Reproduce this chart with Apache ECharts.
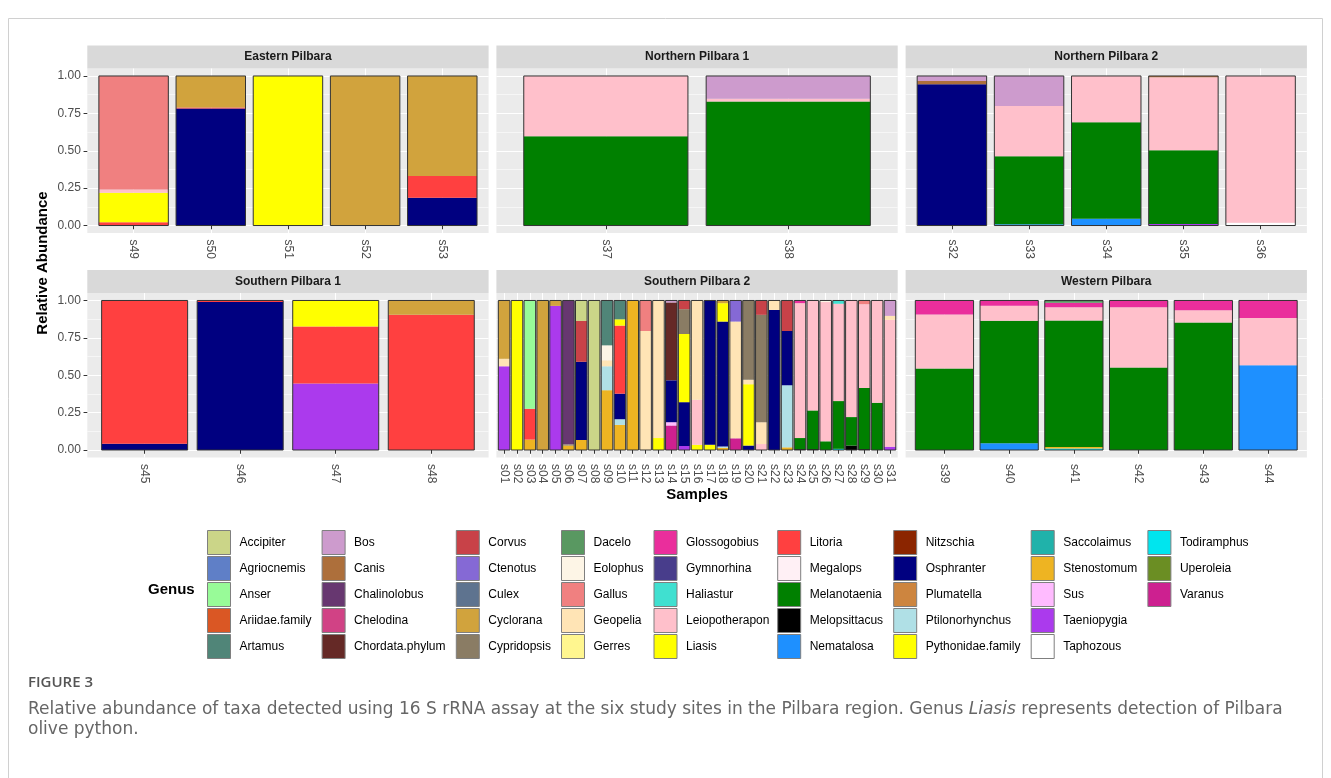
<!DOCTYPE html>
<html><head><meta charset="utf-8">
<script src="https://cdn.jsdelivr.net/npm/echarts@6/dist/echarts.min.js"></script>
<style>html,body{margin:0;padding:0;background:#fff}#c{width:1331px;height:778px}</style>
</head><body><div id="c"></div>
<script>
// ---------- DATA ----------
const genera = ['Accipiter','Agriocnemis','Anser','Ariidae.family','Artamus','Bos','Canis','Chalinolobus','Chelodina','Chordata.phylum','Corvus','Ctenotus','Culex','Cyclorana','Cypridopsis','Dacelo','Eolophus','Gallus','Geopelia','Gerres','Glossogobius','Gymnorhina','Haliastur','Leiopotherapon','Liasis','Litoria','Megalops','Melanotaenia','Melopsittacus','Nematalosa','Nitzschia','Osphranter','Plumatella','Ptilonorhynchus','Pythonidae.family','Saccolaimus','Stenostomum','Sus','Taeniopygia','Taphozous','Todiramphus','Uperoleia','Varanus'];
const genusColors = ['#CBD588','#5F7FC7','#98FB98','#DA5724','#508578','#CD9BCD','#AD6F3B','#673770','#D14285','#652926','#C84248','#8569D5','#5E738F','#D1A33D','#8A7C64','#599861','#FDF5E6','#F08080','#FFE4B5','#FFF68F','#EA2E9C','#483D8B','#40E0D0','#FFC0CB','#FFFF00','#FF4040','#FFF0F5','#008000','#000000','#1E90FF','#8B2500','#000080','#CD853F','#B0E0E6','#FFFF00','#20B2AA','#EEB422','#FFBBFF','#AB3AED','#FFFFFF','#00E5EE','#6B8E23','#CD2090'];

const panelTitles = ['Eastern Pilbara','Northern Pilbara 1','Northern Pilbara 2','Southern Pilbara 1','Southern Pilbara 2','Western Pilbara'];

const easternSamples = ['s49','s50','s51','s52','s53'];
const easternValues = [
  [['Litoria',0.022],['Liasis',0.197],['Leiopotherapon',0.022],['Gallus',0.759]],
  [['Osphranter',0.783],['Litoria',0.007],['Cyclorana',0.21]],
  [['Liasis',1]],
  [['Cyclorana',1]],
  [['Osphranter',0.186],['Litoria',0.145],['Cyclorana',0.669]]
];

const northern1Samples = ['s37','s38'];
const northern1Values = [
  [['Melanotaenia',0.597],['Leiopotherapon',0.403]],
  [['Melanotaenia',0.83],['Leiopotherapon',0.018],['Bos',0.152]]
];

const northern2Samples = ['s32','s33','s34','s35','s36'];
const northern2Values = [
  [['Osphranter',0.944],['Canis',0.022],['Bos',0.034]],
  [['Nematalosa',0.008],['Melanotaenia',0.455],['Leiopotherapon',0.336],['Bos',0.201]],
  [['Nematalosa',0.045],['Melanotaenia',0.646],['Leiopotherapon',0.309]],
  [['Taeniopygia',0.01],['Melanotaenia',0.493],['Leiopotherapon',0.488],['Canis',0.009]],
  [['Taphozous',0.018],['Leiopotherapon',0.982]]
];

const southern1Samples = ['s45','s46','s47','s48'];
const southern1Values = [
  [['Osphranter',0.042],['Litoria',0.958]],
  [['Osphranter',0.989],['Litoria',0.011]],
  [['Taeniopygia',0.444],['Litoria',0.382],['Liasis',0.174]],
  [['Litoria',0.904],['Cyclorana',0.096]]
];

const southern2Samples = ['s01','s02','s03','s04','s05','s06','s07','s08','s09','s10','s11','s12','s13','s14','s15','s16','s17','s18','s19','s20','s21','s22','s23','s24','s25','s26','s27','s28','s29','s30','s31'];
const southern2Values = [
  [['Taeniopygia',0.56],['Geopelia',0.05],['Cyclorana',0.39]],
  [['Liasis',1]],
  [['Stenostomum',0.07],['Litoria',0.206],['Anser',0.724]],
  [['Cyclorana',1]],
  [['Taeniopygia',0.964],['Cyclorana',0.036]],
  [['Stenostomum',0.03],['Cypridopsis',0.008],['Chalinolobus',0.962]],
  [['Stenostomum',0.067],['Osphranter',0.523],['Corvus',0.273],['Accipiter',0.137]],
  [['Accipiter',1]],
  [['Stenostomum',0.40],['Ptilonorhynchus',0.16],['Geopelia',0.04],['Eolophus',0.10],['Artamus',0.30]],
  [['Stenostomum',0.168],['Ptilonorhynchus',0.038],['Osphranter',0.171],['Litoria',0.455],['Liasis',0.042],['Artamus',0.126]],
  [['Stenostomum',1]],
  [['Geopelia',0.796],['Gallus',0.204]],
  [['Liasis',0.08],['Geopelia',0.92]],
  [['Varanus',0.164],['Sus',0.022],['Osphranter',0.28],['Chordata.phylum',0.521],['Bos',0.013]],
  [['Taeniopygia',0.027],['Osphranter',0.293],['Liasis',0.456],['Cypridopsis',0.166],['Corvus',0.058]],
  [['Liasis',0.035],['Leiopotherapon',0.301],['Geopelia',0.664]],
  [['Pythonidae.family',0.036],['Osphranter',0.964]],
  [['Stenostomum',0.015],['Ptilonorhynchus',0.008],['Osphranter',0.836],['Liasis',0.123],['Cyclorana',0.018]],
  [['Varanus',0.078],['Geopelia',0.781],['Ctenotus',0.141]],
  [['Osphranter',0.03],['Liasis',0.41],['Geopelia',0.03],['Cypridopsis',0.53]],
  [['Leiopotherapon',0.04],['Geopelia',0.146],['Cypridopsis',0.718],['Corvus',0.096]],
  [['Osphranter',0.937],['Geopelia',0.063]],
  [['Stenostomum',0.018],['Ptilonorhynchus',0.415],['Osphranter',0.363],['Corvus',0.204]],
  [['Melopsittacus',0.006],['Melanotaenia',0.074],['Leiopotherapon',0.902],['Glossogobius',0.018]],
  [['Melopsittacus',0.006],['Melanotaenia',0.259],['Leiopotherapon',0.735]],
  [['Melanotaenia',0.058],['Leiopotherapon',0.931],['Eolophus',0.011]],
  [['Todiramphus',0.008],['Melanotaenia',0.319],['Leiopotherapon',0.651],['Haliastur',0.022]],
  [['Melopsittacus',0.03],['Melanotaenia',0.19],['Leiopotherapon',0.78]],
  [['Melopsittacus',0.006],['Melanotaenia',0.409],['Leiopotherapon',0.56],['Gallus',0.025]],
  [['Melanotaenia',0.316],['Leiopotherapon',0.684]],
  [['Taeniopygia',0.022],['Leiopotherapon',0.848],['Geopelia',0.027],['Bos',0.103]]
];

const westernSamples = ['s39','s40','s41','s42','s43','s44'];
const westernValues = [
  [['Melanotaenia',0.545],['Leiopotherapon',0.361],['Glossogobius',0.094]],
  [['Nematalosa',0.045],['Melanotaenia',0.819],['Leiopotherapon',0.1],['Glossogobius',0.036]],
  [['Todiramphus',0.01],['Stenostomum',0.01],['Melanotaenia',0.846],['Leiopotherapon',0.089],['Glossogobius',0.029],['Dacelo',0.016]],
  [['Melanotaenia',0.551],['Leiopotherapon',0.404],['Glossogobius',0.045]],
  [['Melanotaenia',0.853],['Leiopotherapon',0.082],['Glossogobius',0.065]],
  [['Nematalosa',0.567],['Leiopotherapon',0.315],['Glossogobius',0.118]]
];

const yTickValues = [0, 0.25, 0.5, 0.75, 1];
const yMinorValues = [0.125, 0.375, 0.625, 0.875];
const legendColumns = [
  ['Accipiter','Agriocnemis','Anser','Ariidae.family','Artamus'],
  ['Bos','Canis','Chalinolobus','Chelodina','Chordata.phylum'],
  ['Corvus','Ctenotus','Culex','Cyclorana','Cypridopsis'],
  ['Dacelo','Eolophus','Gallus','Geopelia','Gerres'],
  ['Glossogobius','Gymnorhina','Haliastur','Leiopotherapon','Liasis'],
  ['Litoria','Megalops','Melanotaenia','Melopsittacus','Nematalosa'],
  ['Nitzschia','Osphranter','Plumatella','Ptilonorhynchus','Pythonidae.family'],
  ['Saccolaimus','Stenostomum','Sus','Taeniopygia','Taphozous'],
  ['Todiramphus','Uperoleia','Varanus']
];
const captionLine1 = 'Relative abundance of taxa detected using 16 S rRNA assay at the six study sites in the Pilbara region. Genus ';
const captionItalic = 'Liasis';
const captionLine1End = ' represents detection of Pilbara';
const captionLine2 = 'olive python.';

// ---------- LAYOUT ----------
const FONT = '"Liberation Sans", Arial, Helvetica, sans-serif';
const CAPFONT = '"DejaVu Sans", "Open Sans", sans-serif';
const colLeft = [87.3, 496.4, 905.6];
const rowTop = [68.5, 293];
const panelW = 401.3, panelH = 164.5, stripH = 23;
const HALF_W = 0.45;
const legendLeft = [202, 316.6, 450.8, 556, 648.5, 772.2, 888.2, 1025.7, 1142.4];
const legendTop = 525;
const legendStep = 26.1;
const captionX = 28, captionWidth = 1267;

// fit caption font size so that its first line spans the same width as the original
const mctx = document.createElement('canvas').getContext('2d');
mctx.font = '16px ' + CAPFONT;
const capSize = Math.min(17, 16 * captionWidth / mctx.measureText(captionLine1 + captionItalic + captionLine1End).width);

const panels = [
  {samples: easternSamples, values: easternValues, col: 0, row: 0},
  {samples: northern1Samples, values: northern1Values, col: 1, row: 0},
  {samples: northern2Samples, values: northern2Values, col: 2, row: 0},
  {samples: southern1Samples, values: southern1Values, col: 0, row: 1},
  {samples: southern2Samples, values: southern2Values, col: 1, row: 1},
  {samples: westernSamples, values: westernValues, col: 2, row: 1}
];

function segRect(api) {
  const x = api.value(0), y0 = api.value(1), y1 = api.value(2);
  const a = api.coord([x - HALF_W, y1]);
  const b = api.coord([x + HALF_W, y0]);
  return {x: a[0], y: a[1], width: b[0] - a[0], height: b[1] - a[1]};
}
function renderSegment(params, api) {
  return {type: 'rect', shape: segRect(api), style: {fill: api.visual('color')}};
}
function renderOutline(params, api) {
  return {type: 'rect', shape: segRect(api), style: {fill: 'none', stroke: '#333333', lineWidth: 1}};
}

const grids = [], xAxes = [], yAxes = [], series = [], graphics = [];
const usedGenera = new Set();

panels.forEach((p, i) => {
  const n = p.samples.length;
  const ticks = p.samples.map((s, j) => j + 1);
  grids.push({left: colLeft[p.col], top: rowTop[p.row], width: panelW, height: panelH,
    show: true, backgroundColor: '#EBEBEB', borderWidth: 0, containLabel: false, outerBoundsMode: 'none'});
  xAxes.push({type: 'value', gridIndex: i, min: 0.4, max: n + 0.6,
    axisLine: {show: false},
    axisTick: {show: true, customValues: ticks, length: 3.75, lineStyle: {color: '#333333', width: 1}},
    axisLabel: {show: true, customValues: ticks, formatter: v => p.samples[Math.round(v) - 1] || '',
      rotate: -90, fontSize: 12, lineHeight: 12, color: '#4D4D4D', fontFamily: FONT, margin: 6.5, hideOverlap: false},
    splitLine: {show: true, lineStyle: {color: '#FFFFFF', width: 1.1}}});
  yAxes.push({type: 'value', gridIndex: i, min: -0.05, max: 1.05, position: 'left',
    axisLine: {show: false},
    axisTick: {show: p.col === 0, customValues: yTickValues, length: 3.75, lineStyle: {color: '#333333', width: 1}},
    axisLabel: {show: p.col === 0, customValues: yTickValues, formatter: v => v.toFixed(2),
      fontSize: 12, color: '#4D4D4D', fontFamily: FONT, margin: 6.5, hideOverlap: false},
    splitLine: {show: true, lineStyle: {color: '#FFFFFF', width: 1.1}}});
  yAxes.push({type: 'value', gridIndex: i, min: -0.05, max: 1.05, position: 'left',
    axisLine: {show: false},
    axisTick: {show: false, customValues: yMinorValues},
    axisLabel: {show: false, customValues: yMinorValues},
    splitLine: {show: true, lineStyle: {color: '#FFFFFF', width: 0.55}}});

  // stacked segments: bottom = last genus alphabetically
  const segs = {};
  const totals = [];
  p.values.forEach((entries, j) => {
    const sorted = entries.slice().sort((a, b) => genera.indexOf(b[0]) - genera.indexOf(a[0]));
    let cum = 0;
    sorted.forEach(([g, v]) => {
      (segs[g] = segs[g] || []).push([j + 1, cum, cum + v]);
      cum += v;
    });
    totals.push([j + 1, 0, cum]);
  });
  genera.slice().reverse().forEach(g => {
    if (!segs[g]) return;
    usedGenera.add(g);
    series.push({type: 'custom', name: g, xAxisIndex: i, yAxisIndex: 2 * i,
      renderItem: renderSegment, data: segs[g], encode: {x: 0, y: [1, 2]},
      itemStyle: {color: genusColors[genera.indexOf(g)]}, silent: true, animation: false, z: 2});
  });
  series.push({type: 'custom', name: 'outline' + i, xAxisIndex: i, yAxisIndex: 2 * i,
    renderItem: renderOutline, data: totals, encode: {x: 0, y: [1, 2]}, silent: true, animation: false, z: 3});

  // strip
  graphics.push({type: 'rect', shape: {x: colLeft[p.col], y: rowTop[p.row] - stripH, width: panelW, height: stripH},
    style: {fill: '#D9D9D9'}, silent: true});
  graphics.push({type: 'text', x: colLeft[p.col] + panelW / 2, y: rowTop[p.row] - stripH / 2,
    style: {text: panelTitles[i], fontSize: 12, fontWeight: 'bold', fontFamily: FONT, fill: '#1A1A1A',
      align: 'center', verticalAlign: 'middle'}, silent: true});
});

// genera not present in any panel still need an (empty) series for the legend key
genera.forEach((g, k) => {
  if (usedGenera.has(g)) return;
  series.push({type: 'custom', name: g, xAxisIndex: 0, yAxisIndex: 0, renderItem: renderSegment,
    data: [], encode: {x: 0, y: [1, 2]}, itemStyle: {color: genusColors[k]}, silent: true, animation: false});
});

const legends = legendColumns.map((names, k) => ({
  orient: 'vertical', left: legendLeft[k], top: legendTop, itemWidth: 23, itemHeight: 24, itemGap: 1,
  icon: 'rect', selectedMode: false, data: names,
  itemStyle: {borderColor: '#7F7F7F', borderWidth: 1},
  textStyle: {fontSize: 12, color: '#000000', fontFamily: FONT, padding: [0, 0, 0, 4]}
}));

const plotCenter = colLeft[0] + (colLeft[2] + panelW - colLeft[0]) / 2;
graphics.push(
  {type: 'rect', shape: {x: 8.5, y: 18.5, width: 1314, height: 800}, style: {fill: 'none', stroke: '#D0D0D0', lineWidth: 1}, silent: true},
  {type: 'text', x: 43, y: (rowTop[0] + rowTop[1] + panelH) / 2, rotation: Math.PI / 2,
    style: {text: 'Relative Abundance', fontSize: 15, fontWeight: 'bold', fontFamily: FONT, fill: '#000',
      align: 'center', verticalAlign: 'middle'}, silent: true},
  {type: 'text', x: plotCenter, y: 495,
    style: {text: 'Samples', fontSize: 15, fontWeight: 'bold', fontFamily: FONT, fill: '#000',
      align: 'center', verticalAlign: 'middle'}, silent: true},
  {type: 'text', x: 148, y: legendTop + 12.5 + 2 * legendStep,
    style: {text: 'Genus', fontSize: 15, fontWeight: 'bold', fontFamily: FONT, fill: '#000',
      align: 'left', verticalAlign: 'middle'}, silent: true},
  {type: 'text', x: captionX, y: 683,
    style: {text: 'FIGURE 3', fontSize: 15, fontWeight: 600, fontFamily: '"Open Sans", sans-serif', fill: '#555555',
      align: 'left', verticalAlign: 'middle'}, silent: true},
  {type: 'text', x: captionX, y: 700,
    style: {text: captionLine1 + '{i|' + captionItalic + '}' + captionLine1End + '\n' + captionLine2,
      fontSize: capSize, lineHeight: 20, fontFamily: CAPFONT, fill: '#666666',
      align: 'left', verticalAlign: 'top',
      rich: {i: {fontStyle: 'italic', fontSize: capSize, lineHeight: 20, fontFamily: CAPFONT, fill: '#666666'}}}, silent: true}
);

const chart = echarts.init(document.getElementById('c'), null, {renderer: 'canvas'});
chart.setOption({
  animation: false,
  backgroundColor: '#FFFFFF',
  grid: grids, xAxis: xAxes, yAxis: yAxes, series: series,
  legend: legends,
  graphic: graphics
});
</script></body></html>
